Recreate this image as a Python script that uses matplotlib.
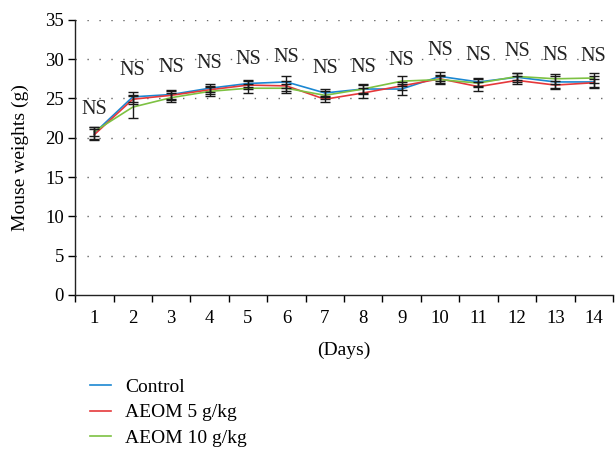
import matplotlib
matplotlib.use("Agg")
import matplotlib.pyplot as plt
from matplotlib.lines import Line2D
import numpy as np

days = [1, 2, 3, 4, 5, 6, 7, 8, 9, 10, 11, 12, 13, 14]
day_labels = [str(d) for d in days]

control = [20.6, 25.2, 25.5, 26.3, 26.9, 27.1, 25.7, 26.2, 26.2, 27.8, 27.1, 27.7, 27.1, 27.1]
aeom5 = [20.4, 24.9, 25.4, 26.1, 26.7, 26.6, 24.9, 25.7, 26.6, 27.5, 26.5, 27.3, 26.7, 27.0]
aeom10 = [20.8, 23.9, 25.1, 25.9, 26.3, 26.3, 25.4, 26.2, 27.2, 27.4, 26.95, 27.8, 27.5, 27.6]

control_err = [0.8, 0.6, 0.6, 0.5, 0.4, 0.8, 0.5, 0.6, 0.7, 0.6, 0.5, 0.6, 0.8, 0.8]
aeom5_err = [0.7, 0.6, 0.6, 0.5, 0.5, 0.6, 0.4, 0.6, 0.5, 0.5, 0.6, 0.5, 0.5, 0.5]
aeom10_err = [0.6, 1.4, 0.6, 0.6, 0.6, 0.6, 0.5, 0.5, 0.6, 0.5, 0.5, 0.5, 0.6, 0.6]

ns_labels = ["NS"] * 14
ns_y = [23.6, 28.5, 28.9, 29.5, 30.0, 30.2, 28.8, 28.9, 29.8, 31.1, 30.5, 31.0, 30.5, 30.3]

series_names = ["Control", "AEOM 5 g/kg", "AEOM 10 g/kg"]
colors = ["#1b87d2", "#e5383b", "#7dc142"]

plt.rcParams['font.family'] = ['Liberation Serif', 'DejaVu Serif']

fig = plt.figure(figsize=(6.16, 4.51), dpi=100)
ax = fig.add_axes([0.122, 0.346, 0.873, 0.610])

x = np.array(days, dtype=float)
for vals, c in zip([control, aeom5, aeom10], colors):
    ax.plot(x, vals, color=c, lw=1.2, zorder=3)
for vals, errs in zip([control, aeom5, aeom10], [control_err, aeom5_err, aeom10_err]):
    ax.errorbar(x, vals, yerr=errs, fmt='none', ecolor='#1a1a1a', elinewidth=1.0,
                capsize=3.5, capthick=1.0, zorder=4)

for xi, yi, t in zip(x, ns_y, ns_labels):
    ax.text(xi, yi, t, ha='center', va='center', fontsize=14.5, color='#222222')

ax.set_xlim(0.5, 14.5)
ax.set_ylim(0, 35)
ax.set_yticks(np.arange(0, 36, 5))
ax.set_xticks(x)
ax.set_xticklabels(day_labels)
ax.set_xticks(np.arange(0.5, 15, 1), minor=True)
ax.tick_params(axis='x', which='major', length=0, pad=10.5, labelsize=13.5)
ax.tick_params(axis='x', which='minor', length=5, width=1, direction='out')
ax.tick_params(axis='y', length=5, width=1, direction='out', labelsize=13.5, pad=3)

for yv in range(5, 36, 5):
    ax.axhline(yv, color='#666666', lw=1.0, ls=(0, (1, 7.6)), zorder=1)

for s in ['top', 'right']:
    ax.spines[s].set_visible(False)
for s in ['left', 'bottom']:
    ax.spines[s].set_linewidth(1.0)
    ax.spines[s].set_color('#222222')

ax.set_ylabel("Mouse weights (g)", fontsize=14, labelpad=12)
ax.set_xlabel("(Days)", fontsize=14, labelpad=11)

handles = [Line2D([0], [0], color=c, lw=1.2) for c in colors]
fig.legend(handles, series_names, loc='upper left', bbox_to_anchor=(0.146, 0.162),
           frameon=False, fontsize=14, handlelength=1.1, handletextpad=0.7,
           labelspacing=0.42, borderaxespad=0, borderpad=0)

fig.savefig("out.png", dpi=100)
